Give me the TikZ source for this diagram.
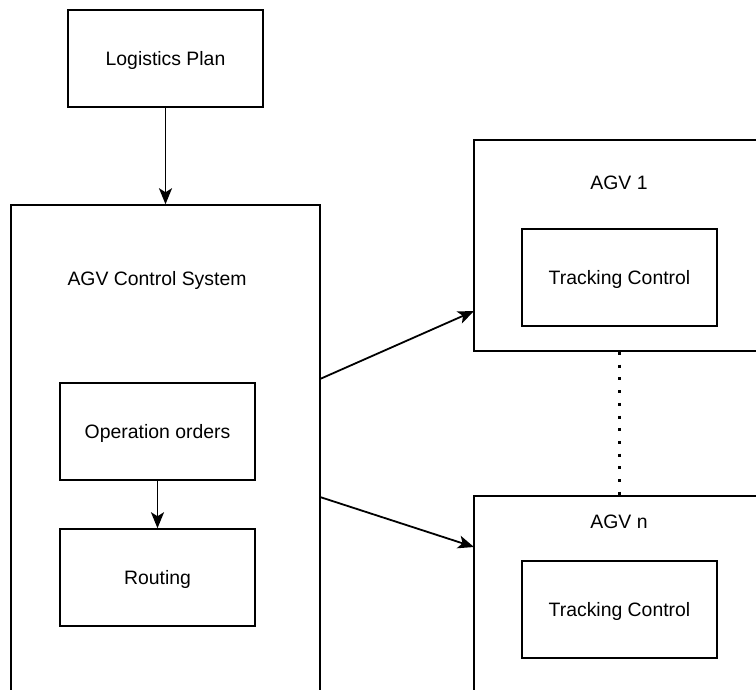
\documentclass[tikz,border=0pt]{standalone}
\usepackage{fontspec}
\setmainfont{Liberation Sans}
\usetikzlibrary{arrows.meta}

\begin{document}
\begin{tikzpicture}[x=1pt, y=-1pt,
  box/.style={draw, line width=1.5pt, inner sep=0pt},
  txt/.style={font=\fontsize{19.4}{23}\selectfont, text height=14pt, text depth=0pt},
  link/.style={-{Stealth[length=16pt,width=13pt,inset=4pt]}, line width=1.8pt}]
  \path[use as bounding box, clip] (0,0) rectangle (756,689);
  \fill[white] (0,0) rectangle (756,689);
  \node[box, txt, minimum width=195pt, minimum height=97pt] (plan) at (165.5,58.5) {Logistics Plan};
  \node[box, minimum width=309pt, minimum height=515pt] (ctrl) at (165.5,462.5) {};
  \node[txt] (ctrltitle) at (157,278) {AGV Control System};
  \node[box, txt, minimum width=195pt, minimum height=97pt] (orders) at (157.5,431.5) {Operation orders};
  \node[box, txt, minimum width=195pt, minimum height=97pt] (routing) at (157.5,577.5) {Routing};
  \node[box, minimum width=326pt, minimum height=211pt] (agv1) at (637,245.5) {};
  \node[txt] (agv1title) at (619,182) {AGV 1};
  \node[box, txt, minimum width=195pt, minimum height=97pt] (track1) at (619.5,277.5) {Tracking Control};
  \node[box, minimum width=326pt, minimum height=224pt] (agvn) at (637,608) {};
  \node[txt] (agvntitle) at (619,521) {AGV n};
  \node[box, txt, minimum width=195pt, minimum height=97pt] (trackn) at (619.5,609.5) {Tracking Control};
  \coordinate (out1) at (320,379); \coordinate (in1) at (474,311);
  \coordinate (out2) at (320,497); \coordinate (in2) at (474,547);
  \draw[link] (plan.south) -- (plan.south |- ctrl.north);
  \draw[link] (orders) -- (routing);
  \draw[link] (out1) -- (in1);
  \draw[link] (out2) -- (in2);
  \draw[line width=3pt, dash pattern=on 3pt off 9.7pt] (619,352) -- (619,496);
\end{tikzpicture}
\end{document}
